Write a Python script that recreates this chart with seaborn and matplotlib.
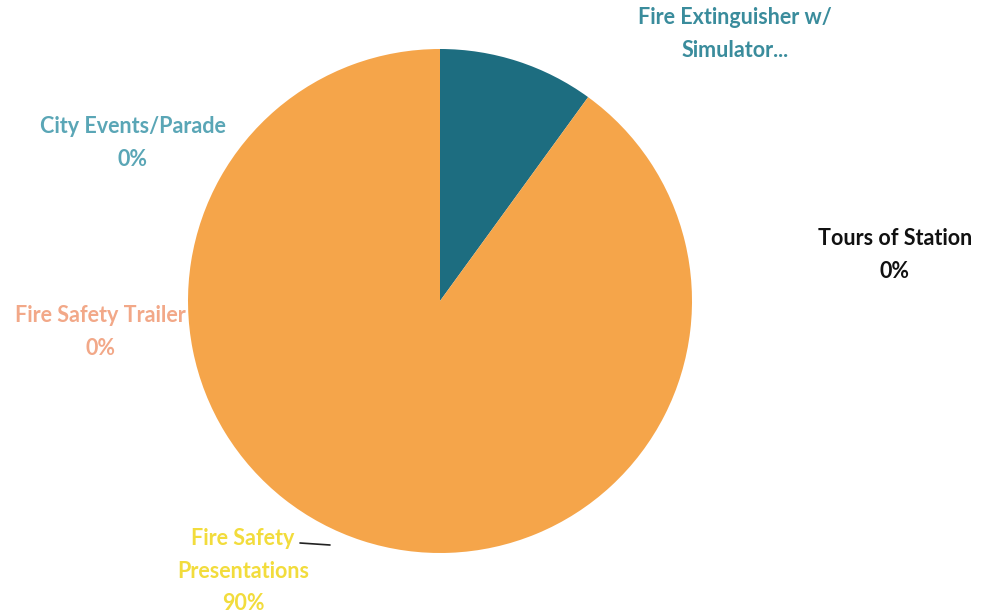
import matplotlib
matplotlib.use("Agg")
import matplotlib.pyplot as plt
import seaborn as sns

categories = ["Fire Extinguisher w/\nSimulator...", "Tours of Station",
              "Fire Safety\nPresentations", "Fire Safety Trailer", "City Events/Parade"]
values = [10, 0, 90, 0, 0]
pct_labels = ["", "0%", "90%", "0%", "0%"]

wedge_colors = ["#1d6d80", "#f5a54a", "#f5a54a", "#f5a54a", "#f5a54a"]
label_colors = ["#3a8c9c", "#111111", "#f2dc3c", "#f2a888", "#5aa6b6"]
# label block centres in pixel space (x, y from top)
label_pos = [(735, 34), (895, 255), (243, 571), (100, 332), (133, 143)]

sns.set_theme(style="white")
plt.rcParams["font.family"] = ["Lato", "DejaVu Sans"]

fig = plt.figure(figsize=(9.85, 6.14), dpi=100)
ax = fig.add_axes([0, 0, 1, 1])

ax.pie(values, colors=wedge_colors, startangle=90, counterclock=False,
       center=(440, 313), radius=252, frame=True,
       wedgeprops=dict(linewidth=0))
ax.set_xlim(0, 985)
ax.set_ylim(0, 614)
ax.axis("off")

for cat, pct, col, (x, y) in zip(categories, pct_labels, label_colors, label_pos):
    txt = cat if pct == "" else cat + "\n" + pct
    ax.text(x, 614 - y, txt, ha="center", va="center", fontsize=15.5,
            fontweight="bold", color=col, linespacing=1.7)

# leader line for presentations
ax.plot([300, 330], [614 - 543, 614 - 545], color="#222222", lw=1.2)

fig.savefig("out.png", dpi=100)
